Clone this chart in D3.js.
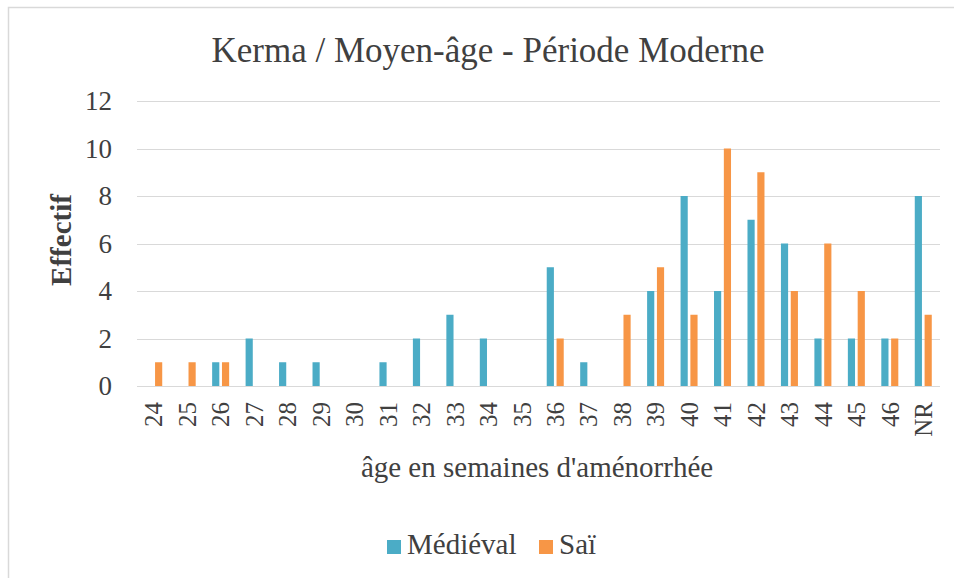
<!DOCTYPE html>
<html>
<head>
<meta charset="utf-8">
<script src="https://cdn.jsdelivr.net/npm/d3@7"></script>
<style>
  html, body { margin: 0; padding: 0; background: #fff; }
  svg text { font-family: "Liberation Serif", Tinos, "DejaVu Serif", serif; }
</style>
</head>
<body>
<svg id="chart" width="954" height="578"></svg>
<script>
// Gestational age classes (weeks of amenorrhea) and counts per series
const categories = ["24","25","26","27","28","29","30","31","32","33","34","35","36","37","38","39","40","41","42","43","44","45","46","NR"];
const medieval   = [0,0,1,2,1,1,0,1,2,3,2,0,5,1,0,4,8,4,7,6,2,2,2,8];
const sai        = [1,1,1,0,0,0,0,0,0,0,0,0,2,0,3,5,3,10,9,4,6,4,2,3];
const seriesNames = ["Médiéval", "Saï"];
const seriesColors = ["#4bacc6", "#f79646"];
const yTicks = [0, 2, 4, 6, 8, 10, 12];

const FONT = "'Liberation Serif', Tinos, 'DejaVu Serif', serif";
const svg = d3.select("#chart");

// outer frame of the chart area
svg.append("rect")
  .attr("x", 8.5).attr("y", 7.5)
  .attr("width", 1000).attr("height", 1000)
  .attr("fill", "#fff")
  .attr("stroke", "#d9d9d9").attr("stroke-width", 1.5);

const plot = { left: 137, right: 940, top: 101, bottom: 386 };

const x = d3.scaleBand().domain(categories).range([plot.left, plot.right]).padding(0);
const y = d3.scaleLinear().domain([0, 12]).range([plot.bottom, plot.top]);
const xs = d3.scaleBand().domain(seriesNames).range([0, 17]).paddingInner(0.27);

// horizontal gridlines
svg.append("g")
  .selectAll("line")
  .data(yTicks)
  .join("line")
  .attr("x1", plot.left).attr("x2", plot.right)
  .attr("y1", d => Math.round(y(d)) + 0.5).attr("y2", d => Math.round(y(d)) + 0.5)
  .attr("stroke", "#d9d9d9").attr("stroke-width", 1.2);

// y tick labels
svg.append("g")
  .selectAll("text")
  .data(yTicks)
  .join("text")
  .attr("x", 112)
  .attr("y", d => y(d))
  .attr("dy", "0.35em")
  .attr("text-anchor", "end")
  .attr("font-family", FONT)
  .attr("font-size", 27)
  .attr("fill", "#404040")
  .text(d => d);

// bars
const rows = categories.map((c, i) => ({ cat: c, values: [medieval[i], sai[i]] }));
const groups = svg.append("g")
  .selectAll("g")
  .data(rows)
  .join("g")
  .attr("transform", d => `translate(${x(d.cat) + x.bandwidth() / 2 - 8.5},0)`);

groups.selectAll("rect")
  .data(d => d.values.map((v, k) => ({ name: seriesNames[k], v, k })))
  .join("rect")
  .filter(d => d.v > 0)
  .attr("x", d => xs(d.name))
  .attr("width", xs.bandwidth())
  .attr("y", d => y(d.v))
  .attr("height", d => y(0) - y(d.v))
  .attr("fill", d => seriesColors[d.k]);

// x tick labels, rotated
svg.append("g")
  .selectAll("text")
  .data(categories)
  .join("text")
  .attr("transform", d => `translate(${x(d) + x.bandwidth() / 2},402) rotate(-90)`)
  .attr("dy", "0.35em")
  .attr("text-anchor", "end")
  .attr("font-family", FONT)
  .attr("font-size", 25)
  .attr("fill", "#404040")
  .text(d => d);

// title
svg.append("text")
  .attr("x", 488).attr("y", 62)
  .attr("text-anchor", "middle")
  .attr("font-family", FONT)
  .attr("font-size", 35)
  .attr("fill", "#404040")
  .text("Kerma / Moyen-âge - Période Moderne");

// axis titles
svg.append("text")
  .attr("transform", "translate(61,240) rotate(-90)")
  .attr("dy", "0.35em")
  .attr("text-anchor", "middle")
  .attr("font-family", FONT)
  .attr("font-size", 29)
  .attr("font-weight", "bold")
  .attr("fill", "#404040")
  .text("Effectif");

svg.append("text")
  .attr("x", 537).attr("y", 477)
  .attr("text-anchor", "middle")
  .attr("font-family", FONT)
  .attr("font-size", 29)
  .attr("fill", "#404040")
  .text("âge en semaines d'aménorrhée");

// legend
const legend = svg.append("g");
const legendItems = [{ name: seriesNames[0], color: seriesColors[0], x: 387 }, { name: seriesNames[1], color: seriesColors[1], x: 539 }];
legend.selectAll("rect")
  .data(legendItems)
  .join("rect")
  .attr("x", d => d.x).attr("y", 540)
  .attr("width", 14).attr("height", 14)
  .attr("fill", d => d.color);
legend.selectAll("text")
  .data(legendItems)
  .join("text")
  .attr("x", d => d.x + 20).attr("y", 554)
  .attr("font-family", FONT)
  .attr("font-size", 29)
  .attr("fill", "#404040")
  .text(d => d.name);
</script>
</body>
</html>
